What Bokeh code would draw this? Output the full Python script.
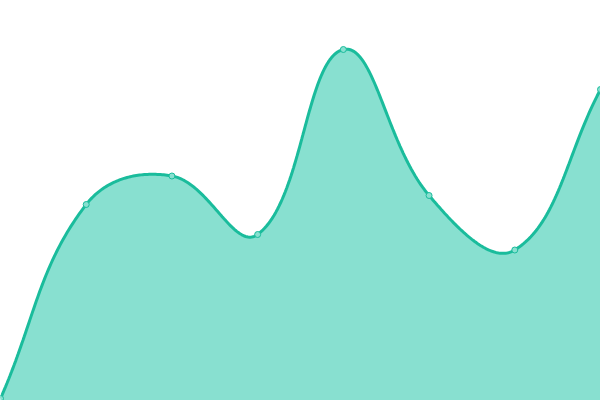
import numpy as np
from bokeh.plotting import figure
from bokeh.models import Range1d, ColumnDataSource, GlobalInlineStyleSheet
from bokeh.embed import file_html
from bokeh.resources import INLINE

# ---- data ----
labels = ["A", "B", "C", "D", "E", "F", "G", "H"]
values = [2, 196, 224.5, 166, 351, 205, 150.5, 311]

LINE = "#1abc9c"
FILL = "#88e0d0"
W, H = 600, 400
Y_MIN, Y_MAX = 0, 400
TENSION = 0.4

n = len(values)
xs = np.arange(n, dtype=float)
ys = np.array(values, dtype=float)

# pixel-space scale factors (for the Chart.js style spline control points)
sx = W / (n - 1)
sy = H / (Y_MAX - Y_MIN)
px = xs * sx
py = ys * sy


def control_points(px, py, t):
    cps = []
    for i in range(len(px)):
        p0 = (px[i - 1], py[i - 1]) if i > 0 else (px[i], py[i])
        p1 = (px[i], py[i])
        p2 = (px[i + 1], py[i + 1]) if i < len(px) - 1 else (px[i], py[i])
        d01 = np.hypot(p1[0] - p0[0], p1[1] - p0[1])
        d12 = np.hypot(p2[0] - p1[0], p2[1] - p1[1])
        tot = d01 + d12
        s01 = d01 / tot if tot else 0
        s12 = d12 / tot if tot else 0
        fa, fb = t * s01, t * s12
        prev = (p1[0] - fa * (p2[0] - p0[0]), p1[1] - fa * (p2[1] - p0[1]))
        nxt = (p1[0] + fb * (p2[0] - p0[0]), p1[1] + fb * (p2[1] - p0[1]))
        clamp = lambda q: (min(max(q[0], 0), W), min(max(q[1], 0), H))
        cps.append((clamp(prev), clamp(nxt)))
    return cps


cps = control_points(px, py, TENSION)
cx, cy = [], []
tt = np.linspace(0, 1, 60)
for i in range(n - 1):
    a = (px[i], py[i]); b = cps[i][1]; c = cps[i + 1][0]; d = (px[i + 1], py[i + 1])
    bx = (1 - tt) ** 3 * a[0] + 3 * (1 - tt) ** 2 * tt * b[0] + 3 * (1 - tt) * tt ** 2 * c[0] + tt ** 3 * d[0]
    by = (1 - tt) ** 3 * a[1] + 3 * (1 - tt) ** 2 * tt * b[1] + 3 * (1 - tt) * tt ** 2 * c[1] + tt ** 3 * d[1]
    if i > 0:
        bx, by = bx[1:], by[1:]
    cx.extend(bx / sx); cy.extend(by / sy)

curve = ColumnDataSource(dict(x=cx, y=cy, y0=[Y_MIN] * len(cx)))
pts = ColumnDataSource(dict(x=xs, y=ys, label=labels))

p = figure(width=W, height=H, output_backend="svg", toolbar_location=None,
           x_range=Range1d(0, n - 1), y_range=Range1d(Y_MIN, Y_MAX),
           min_border=0, min_border_left=0, min_border_right=0,
           min_border_top=0, min_border_bottom=0)
p.stylesheets = [GlobalInlineStyleSheet(css="html,body{margin:0 !important;padding:0;overflow:hidden;}")]
p.axis.visible = False
p.xgrid.visible = False
p.ygrid.visible = False
p.outline_line_color = None
p.background_fill_color = "white"
p.border_fill_color = "white"

p.varea(x="x", y1="y0", y2="y", source=curve, fill_color=FILL, fill_alpha=1.0)
p.line(x="x", y="y", source=curve, line_color=LINE, line_width=3)
p.scatter(x="x", y="y", source=pts, size=6, fill_color=FILL, line_color=LINE, line_width=1)

open("out.html", "w").write(file_html(p, INLINE))
